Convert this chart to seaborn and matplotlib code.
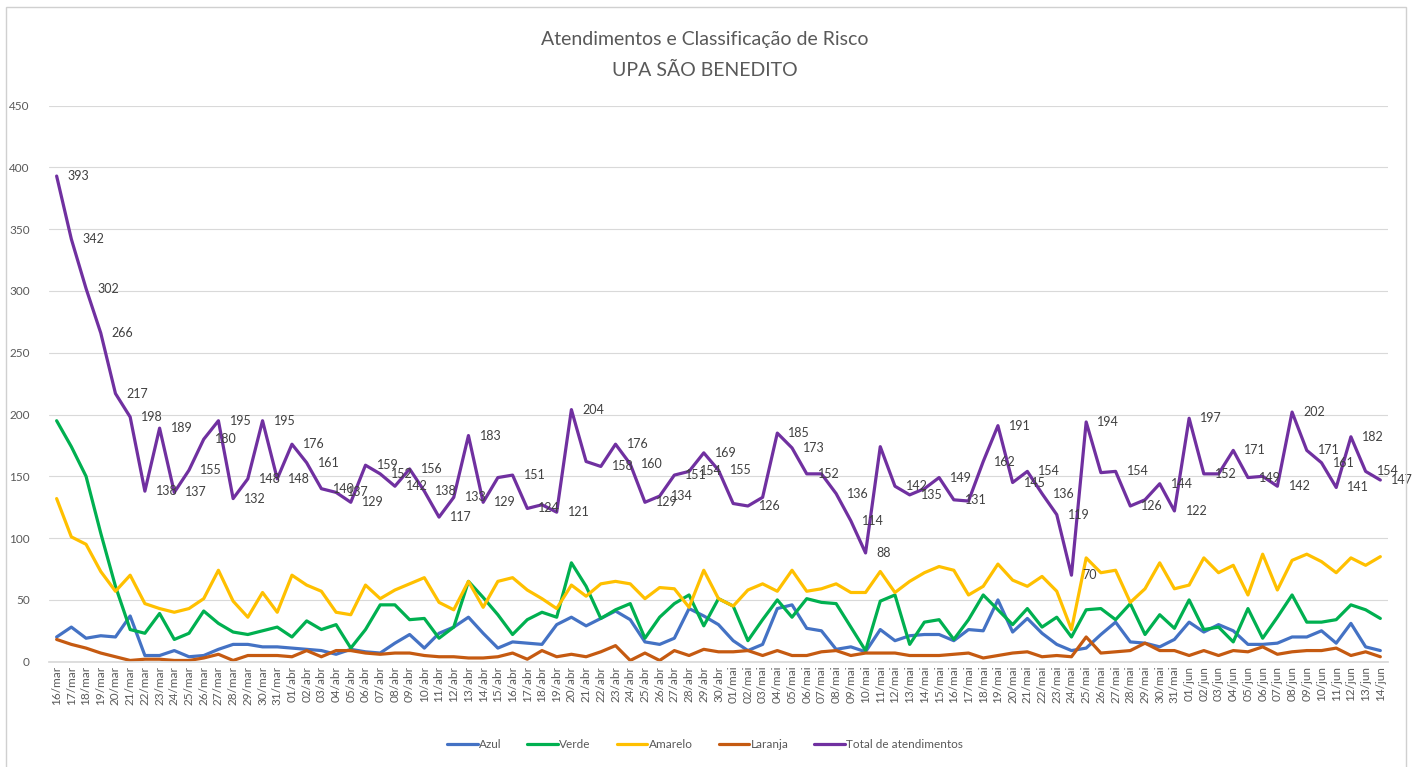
import matplotlib
matplotlib.use("Agg")
import matplotlib.pyplot as plt
import matplotlib.patches as patches
import pandas as pd
import seaborn as sns

# rótulos do eixo x (16/mar a 14/jun)
dias = ([f"{d:02d}/mar" for d in range(16, 32)] + [f"{d:02d}/abr" for d in range(1, 31)]
        + [f"{d:02d}/mai" for d in range(1, 32)] + [f"{d:02d}/jun" for d in range(1, 15)])

azul = [20, 28, 19, 21, 20, 37, 5, 5, 9, 4, 5, 10, 14, 14, 12, 12,
        11, 10, 9, 6, 10, 8, 7, 15, 22, 11, 23, 28, 36, 23, 11, 16, 15, 14, 30, 36,
        29, 35, 41, 34, 16, 14, 19, 43, 37, 30,
        17, 9, 14, 43, 46, 27, 25, 10, 12, 8, 26, 17, 21, 22, 22, 17, 26, 25, 50, 24,
        35, 23, 14, 9, 11, 22, 32, 16, 15, 12, 18,
        32, 24, 30, 25, 14, 14, 15, 20, 20, 25, 15, 31, 12, 9]
verde = [195, 174, 150, 104, 61, 26, 23, 39, 18, 23, 41, 31, 24, 22, 25, 28,
         20, 33, 26, 30, 11, 26, 46, 46, 34, 35, 19, 28, 65, 52, 38, 22, 34, 40, 36, 80,
         61, 35, 42, 47, 19, 36, 47, 54, 29, 51,
         45, 17, 34, 50, 36, 51, 48, 47, 28, 9, 49, 54, 14, 32, 34, 18, 34, 54, 42, 30,
         43, 28, 36, 20, 42, 43, 34, 47, 22, 38, 27,
         50, 26, 28, 16, 43, 19, 36, 54, 32, 32, 34, 46, 42, 35]
amarelo = [132, 101, 95, 73, 57, 70, 47, 43, 40, 43, 51, 74, 49, 36, 56, 40,
           70, 62, 57, 40, 38, 62, 51, 58, 63, 68, 48, 42, 65, 44, 65, 68, 58, 51, 43, 62,
           53, 63, 65, 63, 51, 60, 59, 44, 74, 51,
           45, 58, 63, 57, 74, 57, 59, 63, 56, 56, 73, 56, 65, 72, 77, 74, 54, 61, 79, 66,
           61, 69, 57, 26, 84, 72, 74, 48, 59, 80, 59,
           62, 84, 72, 78, 54, 87, 58, 82, 87, 81, 72, 84, 78, 85]
laranja = [18, 14, 11, 7, 4, 1, 2, 2, 1, 1, 3, 6, 1, 5, 5, 5,
           4, 9, 4, 9, 9, 7, 6, 7, 7, 5, 4, 4, 3, 3, 4, 7, 2, 9, 4, 6,
           4, 8, 13, 1, 7, 1, 9, 5, 10, 8,
           8, 9, 5, 9, 5, 5, 8, 9, 5, 7, 7, 7, 5, 5, 5, 6, 7, 3, 5, 7,
           8, 4, 5, 4, 20, 7, 8, 9, 15, 9, 9,
           5, 9, 5, 9, 8, 12, 6, 8, 9, 9, 11, 5, 8, 4]
total = [393, 342, 302, 266, 217, 198, 138, 189, 137, 155, 180, 195, 132, 148, 195, 148,
         176, 161, 140, 137, 129, 159, 152, 142, 156, 138, 117, 133, 183, 129, 149, 151,
         124, 127, 121, 204, 162, 158, 176, 160, 129, 134, 151, 154, 169, 155,
         128, 126, 133, 185, 173, 152, 152, 136, 114, 88, 174, 142, 135, 140, 149, 131,
         130, 162, 191, 145, 154, 136, 119, 70, 194, 153, 154, 126, 131, 144, 122,
         197, 152, 152, 171, 149, 150, 142, 202, 171, 161, 141, 182, 154, 147]

# dias cujo total não tem rótulo no gráfico original
sem_rotulo = ["15/abr", "18/abr", "21/abr", "01/mai", "03/mai", "07/mai", "11/mai",
              "14/mai", "17/mai", "26/mai", "29/mai", "03/jun", "06/jun"]

series = ["Azul", "Verde", "Amarelo", "Laranja", "Total de atendimentos"]
cores = ["#4472C4", "#00B050", "#FFC000", "#C55A11", "#7030A0"]

df = pd.DataFrame({"dia": range(len(dias)), "Azul": azul, "Verde": verde,
                   "Amarelo": amarelo, "Laranja": laranja,
                   "Total de atendimentos": total})

sns.set_theme(style="white")
plt.rcParams['font.family'] = ['Lato', 'DejaVu Sans']

fig = plt.figure(figsize=(14.16, 7.67), dpi=100)
ax = fig.add_axes([0.0348, 0.1373, 0.9452, 0.725])

for s, c in zip(series, cores):
    sns.lineplot(data=df, x="dia", y=s, color=c, linewidth=2.3, label=s, ax=ax)

for i, v in enumerate(total):
    if dias[i] in sem_rotulo:
        continue
    ax.annotate(str(v), (i, v), xytext=(8, 0), textcoords="offset points",
                ha="left", va="center", fontsize=9, color="#404040")

ax.set_xlim(-0.5, len(dias) - 0.5)
ax.set_ylim(0, 450)
ax.set_yticks(range(0, 451, 50))
ax.set_xticks(range(len(dias)))
ax.set_xticklabels(dias, rotation=90, fontsize=8.5, color="#595959")
ax.tick_params(axis="y", labelsize=8.5, labelcolor="#595959", pad=14, length=0)
ax.tick_params(axis="x", pad=3, length=0)
ax.grid(axis="y", color="#d9d9d9", linewidth=0.8)
ax.set_axisbelow(True)
for sp in ["top", "right", "left"]:
    ax.spines[sp].set_visible(False)
ax.spines["bottom"].set_color("#d9d9d9")
ax.set_xlabel("")
ax.set_ylabel("")

h, l = ax.get_legend_handles_labels()
ax.get_legend().remove()
fig.legend(h, l, loc="center", bbox_to_anchor=(705 / 1416, 22 / 767), ncol=5,
           frameon=False, fontsize=8.5, handlelength=2.6, columnspacing=2.2,
           handletextpad=0.1, labelcolor="#595959")

fig.text(705 / 1416, 1 - 40 / 767, "Atendimentos e Classificação de Risco",
         ha="center", va="center", fontsize=14, color="#595959")
fig.text(705 / 1416, 1 - 70 / 767, "UPA SÃO BENEDITO",
         ha="center", va="center", fontsize=14, color="#595959")

fig.patches.append(patches.Rectangle((6 / 1416, -0.01), 1400 / 1416, 1 - 7 / 767 + 0.01,
                                     transform=fig.transFigure, fill=False,
                                     edgecolor="#d0d0d0", linewidth=1))

fig.savefig("out.png", dpi=100, facecolor="white")
